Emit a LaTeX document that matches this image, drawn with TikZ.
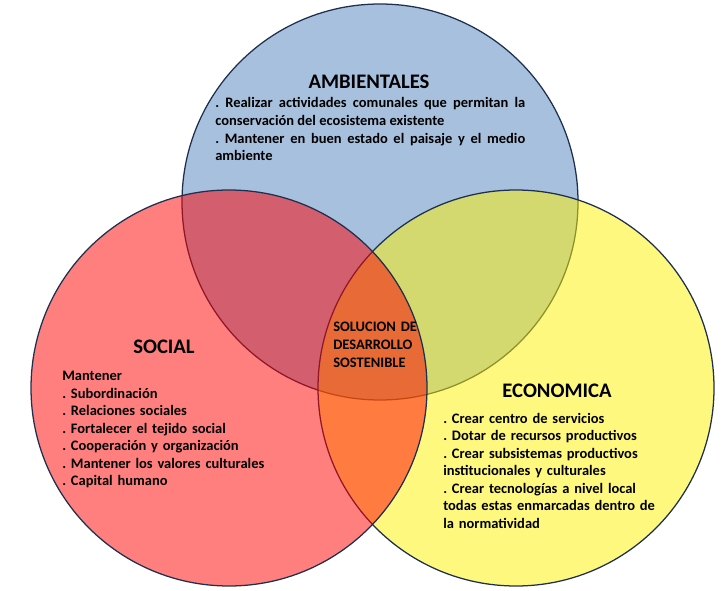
\documentclass[tikz,border=0pt]{standalone}
\usepackage{fontspec}
\setmainfont{Carlito}
\usepackage{tikz}
\frenchspacing

\definecolor{azulAmb}{HTML}{4F81BD}
\definecolor{bordeCirc}{HTML}{1F2F4F}

\begin{document}
\begin{tikzpicture}[
    every node/.style={inner sep=0pt, font=\bfseries\fontsize{10.3}{12.45}\selectfont},
    titulo/.style={font=\bfseries\fontsize{14.7}{17}\selectfont},
    circulo/.style={fill opacity=0.5, draw=bordeCirc, line width=0.9pt}
]
\useasboundingbox (0,0) rectangle (18.05,14.75);

% Circles (blue, yellow, red on top)
\draw[circulo, fill=azulAmb] (9.5,9.7) circle (4.95);
\draw[circulo, fill=yellow] (12.9,5.05) circle (4.95);
\draw[circulo, fill=red] (5.725,5.05) circle (4.95);

% Ambientales
\node[titulo] (ambTitulo) at (9.225,12.7) {AMBIENTALES};
\node[anchor=base west, text width=7.75cm, align=justify] (ambTexto) at (5.375,12.05) {
    . Realizar actividades comunales que permitan la\linebreak
    conservación del ecosistema existente\par
    . Mantener en buen estado el paisaje y el medio\linebreak
    ambiente
};

% Social
\node[titulo] (socTitulo) at (4.1,6.075) {SOCIAL};
\node[anchor=base west, text width=5.5cm, align=left] (socTexto) at (1.55,5.23) {
    Mantener\\
    . Subordinación\\
    . Relaciones sociales\\
    . Fortalecer el tejido social\\
    . Cooperación y organización\\
    . Mantener los valores culturales\\
    . Capital humano
};

% Economica
\node[titulo] (ecoTitulo) at (13.925,4.975) {ECONOMICA};
\node[anchor=base west, text width=6cm, align=left] (ecoTexto) at (11.075,4.175) {
    . Crear centro de servicios\\
    . Dotar de recursos productivos\\
    . Crear subsistemas productivos\\
    institucionales y culturales\\
    . Crear tecnologías a nivel local\\
    todas estas enmarcadas dentro de\\
    la normatividad
};

% Centro
\node[anchor=base west, text width=2.4cm, align=left] (solucion) at (8.325,6.45) {
    SOLUCION DE\\
    DESARROLLO\\
    SOSTENIBLE
};
\end{tikzpicture}
\end{document}
